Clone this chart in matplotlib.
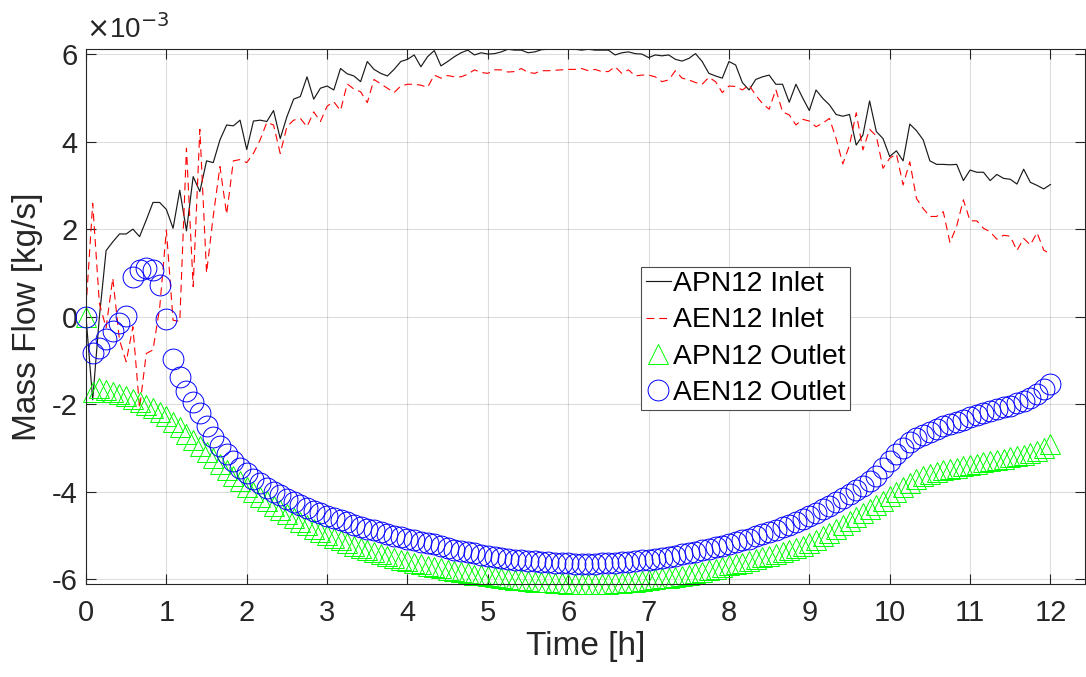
import numpy as np
import matplotlib
matplotlib.use("Agg")
import matplotlib.pyplot as plt

# time axis [h], 5-minute samples
n_steps = 145
time_h = np.arange(n_steps) / 12.0

# Mass flow values in units of 1e-3 kg/s
apn12_inlet = [
    0.0, -1.9, 0.0, 1.51, 1.71, 1.89, 1.89, 2.0, 1.83, 2.21, 2.61, 2.61, 2.45,
    2.02, 2.89, 1.96, 3.2, 2.86, 3.56, 3.52, 4.04, 4.38, 4.36, 4.49, 3.82,
    4.47, 4.49, 4.46, 4.71, 4.07, 4.57, 4.97, 5.03, 5.48, 4.97, 5.22, 5.27,
    5.18, 5.67, 5.55, 5.50, 5.37, 5.83, 5.65, 5.56, 5.50, 5.65, 5.83, 5.88,
    5.98, 5.71, 5.94, 6.08, 5.73, 5.83, 5.94, 6.03, 6.09, 5.98, 6.03, 6.0,
    6.01, 6.05, 6.11, 6.09, 6.09, 6.03, 6.05, 6.10, 6.11, 6.11, 6.11, 6.12,
    6.11, 6.09, 6.11, 6.09, 6.09, 6.09, 5.98, 6.03, 6.05, 6.01, 6.0, 5.92,
    5.98, 5.96, 5.98, 5.88, 5.84, 5.9, 6.01, 5.83, 5.56, 5.5, 5.45, 5.83,
    5.75, 5.35, 5.18, 5.42, 5.48, 5.52, 5.31, 5.31, 4.9, 5.31, 5.0, 4.71,
    5.18, 4.99, 4.84, 4.62, 4.58, 4.62, 3.92, 4.15, 4.93, 4.23, 4.07, 3.66,
    3.79, 3.56, 4.4, 4.25, 4.04, 3.56, 3.48, 3.48, 3.47, 3.48, 3.11, 3.35,
    3.30, 3.30, 3.11, 3.25, 3.16, 3.14, 3.03, 3.37, 3.07, 3.0, 2.92, 3.02,
]

aen12_inlet = [
    0.2, 2.59, 0.3, -0.25, 0.88, -0.53, -1.03, -0.23, -2.09, -0.84, -0.76, 0.2,
    1.98, -0.08, -0.11, 3.85, 0.69, 4.28, 1.0, 2.3, 3.43, 2.34, 3.56, 3.59,
    3.52, 3.73, 4.04, 4.44, 4.38, 3.73, 4.34, 4.49, 4.53, 4.34, 4.68, 4.46,
    4.81, 4.91, 4.71, 5.32, 5.2, 5.14, 4.89, 5.42, 5.32, 5.22, 5.12, 5.27,
    5.31, 5.31, 5.29, 5.24, 5.52, 5.45, 5.51, 5.48, 5.48, 5.54, 5.64, 5.58,
    5.56, 5.64, 5.64, 5.59, 5.6, 5.67, 5.58, 5.56, 5.62, 5.62, 5.63, 5.64,
    5.65, 5.65, 5.67, 5.62, 5.65, 5.6, 5.6, 5.71, 5.56, 5.64, 5.5, 5.52,
    5.52, 5.48, 5.37, 5.41, 5.62, 5.45, 5.41, 5.35, 5.31, 5.47, 5.37, 5.12,
    5.27, 5.26, 5.18, 5.29, 5.06, 4.87, 4.74, 5.19, 4.68, 4.61, 4.38, 4.51,
    4.47, 4.34, 4.42, 4.53, 4.07, 3.49, 3.92, 4.66, 3.81, 4.28, 4.13, 3.39,
    3.62, 3.72, 3.01, 3.54, 2.70, 2.47, 2.29, 2.29, 2.40, 1.69, 2.07, 2.67,
    2.19, 2.19, 2.02, 1.94, 1.77, 1.86, 1.84, 1.51, 1.79, 1.64, 1.92, 1.52,
    1.43,
]

apn12_outlet = [
    0.0, -1.72, -1.64, -1.68, -1.72, -1.77, -1.82, -1.87, -1.94, -2.01, -2.09,
    -2.18, -2.28, -2.4, -2.53, -2.67, -2.81, -2.95, -3.09, -3.23, -3.37, -3.5,
    -3.63, -3.76, -3.88, -4.0, -4.11, -4.22, -4.32, -4.42, -4.51, -4.6, -4.68,
    -4.76, -4.84, -4.91, -4.98, -5.05, -5.11, -5.17, -5.23, -5.28, -5.33,
    -5.38, -5.43, -5.47, -5.51, -5.55, -5.59, -5.63, -5.66, -5.69, -5.72,
    -5.75, -5.78, -5.81, -5.84, -5.86, -5.89, -5.91, -5.93, -5.95, -5.97,
    -5.99, -6.01, -6.02, -6.04, -6.05, -6.06, -6.07, -6.08, -6.09, -6.1, -6.1,
    -6.11, -6.11, -6.11, -6.1, -6.1, -6.09, -6.08, -6.07, -6.06, -6.04, -6.02,
    -6.0, -5.98, -5.96, -5.94, -5.92, -5.89, -5.86, -5.83, -5.79, -5.76,
    -5.72, -5.68, -5.65, -5.62, -5.58, -5.54, -5.5, -5.46, -5.42, -5.38,
    -5.33, -5.28, -5.23, -5.17, -5.1, -5.02, -4.94, -4.85, -4.76, -4.67,
    -4.58, -4.49, -4.4, -4.3, -4.2, -4.1, -4.0, -3.9, -3.8, -3.71, -3.64,
    -3.59, -3.55, -3.51, -3.48, -3.45, -3.42, -3.39, -3.36, -3.33, -3.3,
    -3.27, -3.24, -3.21, -3.18, -3.15, -3.11, -3.07, -3.01, -2.9,
]

aen12_outlet = [
    0.0, -0.84, -0.72, -0.5, -0.32, -0.14, 0.02, 0.9, 1.07, 1.12, 1.07, 0.72,
    -0.06, -0.96, -1.37, -1.7, -1.96, -2.2, -2.5, -2.75, -2.95, -3.13, -3.3,
    -3.45, -3.58, -3.7, -3.81, -3.91, -4.0, -4.08, -4.16, -4.23, -4.3, -4.37,
    -4.43, -4.49, -4.55, -4.6, -4.65, -4.7, -4.75, -4.8, -4.84, -4.88, -4.92,
    -4.96, -5.0, -5.03, -5.07, -5.1, -5.14, -5.17, -5.2, -5.23, -5.29, -5.32,
    -5.35, -5.38, -5.41, -5.44, -5.47, -5.49, -5.51, -5.53, -5.55, -5.57,
    -5.58, -5.59, -5.6, -5.61, -5.62, -5.63, -5.63, -5.64, -5.64, -5.64,
    -5.64, -5.63, -5.63, -5.62, -5.61, -5.6, -5.58, -5.57, -5.55, -5.53,
    -5.51, -5.48, -5.46, -5.43, -5.4, -5.37, -5.34, -5.3, -5.27, -5.23,
    -5.19, -5.15, -5.11, -5.07, -5.02, -4.97, -4.92, -4.87, -4.81, -4.75,
    -4.69, -4.63, -4.56, -4.48, -4.4, -4.32, -4.24, -4.15, -4.06, -3.96,
    -3.86, -3.75, -3.63, -3.45, -3.3, -3.14, -2.99, -2.87, -2.78, -2.7,
    -2.63, -2.56, -2.5, -2.45, -2.4, -2.35, -2.29, -2.25, -2.2, -2.16, -2.12,
    -2.07, -2.03, -1.98, -1.92, -1.86, -1.76, -1.66, -1.54,
]

series_labels = ["APN12 Inlet", "AEN12 Inlet", "APN12 Outlet", "AEN12 Outlet"]
x_ticks = list(range(0, 13))
y_ticks = [-6, -4, -2, 0, 2, 4, 6]

plt.rcParams['font.family'] = ['Liberation Sans', 'DejaVu Sans']
TXT = '#262626'

fig = plt.figure(figsize=(10.86, 6.77), dpi=100)
ax = fig.add_axes([86/1086, 1 - 584/677, (1085-86)/1086, (584-49)/677])

ax.plot(time_h, apn12_inlet, color='#1a1a1a', lw=0.85, label=series_labels[0])
ax.plot(time_h, aen12_inlet, color='#ff0000', lw=0.8, linestyle=(0, (7, 4.5)),
        label=series_labels[1])
ax.plot(time_h, apn12_outlet, linestyle='none', marker='^', ms=15,
        mfc='none', mec='#00ff00', mew=0.7, label=series_labels[2], clip_on=False)
ax.plot(time_h, aen12_outlet, linestyle='none', marker='o', ms=15,
        mfc='none', mec='#0000ff', mew=0.7, label=series_labels[3], clip_on=False)

ax.set_xlim(0, 12.43)
ax.set_ylim(-6.107, 6.116)
ax.set_xticks(x_ticks)
ax.set_yticks(y_ticks)
ax.set_xticklabels([str(v) for v in x_ticks])
ax.set_yticklabels([str(v) for v in y_ticks])

ax.grid(True, color='#262626', alpha=0.15, lw=0.8)
ax.set_axisbelow(True)
ax.tick_params(direction='in', length=7, width=0.8, colors=TXT,
               labelsize=21, top=True, right=True)
ax.tick_params(axis='x', pad=11)
ax.tick_params(axis='y', pad=6)
for s in ax.spines.values():
    s.set_color(TXT)
    s.set_linewidth(0.8)

ax.set_xlabel('Time [h]', fontsize=24, color=TXT, labelpad=3)
ax.set_ylabel('Mass Flow [kg/s]', fontsize=24, color=TXT, labelpad=6)

ax.text(0.0, 1.01, r'$\times$10$^{-3}$', transform=ax.transAxes,
        fontsize=20, color=TXT, ha='left', va='bottom')

leg = ax.legend(loc='upper left', bbox_to_anchor=(0.556, 0.593),
                fontsize=20.3, frameon=True, fancybox=False, edgecolor='#4d4d4d',
                framealpha=1, handlelength=0.9, handletextpad=0.08,
                borderpad=0.15, labelspacing=0.37, borderaxespad=0)
leg.get_frame().set_linewidth(0.8)
for t in leg.get_texts():
    t.set_color('black')

fig.savefig('out.png', dpi=100)
